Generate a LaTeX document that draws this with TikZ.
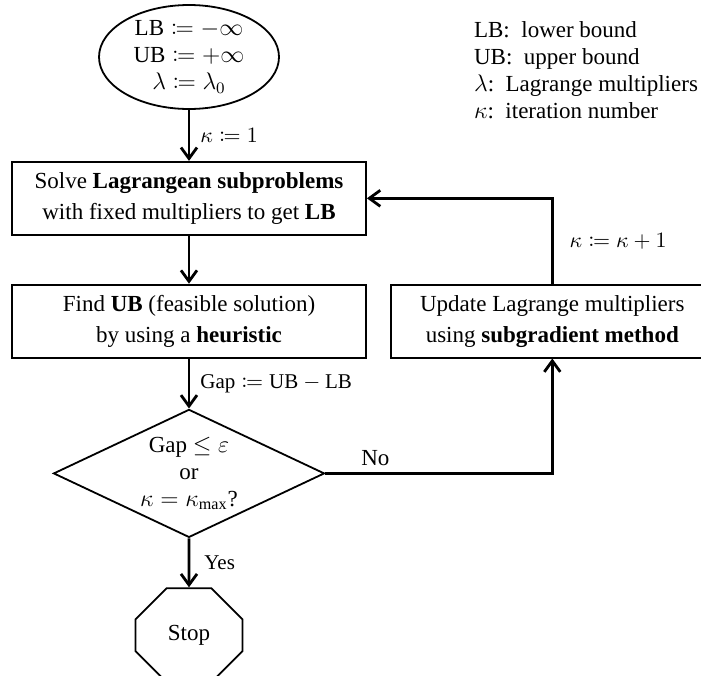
\documentclass[tikz,border=0pt]{standalone}
\usepackage{mathtools}
\usepackage{fontspec}
\setmainfont{Liberation Serif}
\usetikzlibrary{shapes, arrows.meta, positioning}

\begin{document}
\begin{tikzpicture}[->,>={Straight Barb[length=5.5pt,width=8pt]},x=1pt,y=1pt,
      line width=1.4pt,font=\fontsize{11.5}{15.5}\selectfont,
      main node/.style={rectangle,draw,line width=0.9pt,minimum width=177pt,minimum height=36.5pt,align=center},
      start node/.style={ellipse,draw,line width=0.9pt,minimum width=90pt,minimum height=52pt,inner sep=0pt,align=center,font=\fontsize{11.5}{13.5}\selectfont},
      test node/.style={diamond,draw,line width=0.9pt,aspect=2.1,minimum width=135.5pt,minimum height=64pt,inner sep=-3pt,align=center,font=\fontsize{11.5}{13.5}\selectfont},
      stop node/.style={chamfered rectangle,draw,line width=0.9pt,minimum width=53.5pt,minimum height=47pt,
        chamfered rectangle xsep=14.25pt,chamfered rectangle ysep=13.5pt,inner sep=0pt},
      other node/.style={align=left,font=\fontsize{11.5}{13.5}\selectfont}]

    \useasboundingbox (0,0) rectangle (350.5,-337.5);
    \clip (0,0) rectangle (350.5,-337.5);

        \node[start node] (1) at (94.5,-28.5) {$\text{LB} \coloneqq -\infty$\\ $\text{UB} \coloneqq +\infty$\\ $\lambda \coloneqq \lambda_0$};
        \node[main node] (2) [below=25.5pt of 1] {Solve \textbf{Lagrangean subproblems}\\ with fixed multipliers to get \textbf{LB}};
        \node[main node] (3) [below=24pt of 2] {Find \textbf{UB} (feasible solution)\\ by using a \textbf{heuristic}};
        \node[test node] (4) [below=25pt of 3] {Gap $\leq \varepsilon$\\ or\\ $\kappa = \kappa_{\max}$?};
        \node[stop node] (5) [below=24.5pt of 4] {Stop};
        \node[main node, minimum width=161.5pt] (6) [right=11.5pt of 3, anchor=west] {Update Lagrange multipliers\\ using \textbf{subgradient method}};

        \node[other node, anchor=west] (7) at (233,-35.25) {LB:\ \ lower bound\\ UB:\ \ upper bound\\ $\lambda$:\ \ Lagrange multipliers\\ $\kappa$:\ \ iteration number};

        \path[every node/.style={font=\fontsize{10.5}{12}\selectfont, inner sep=5pt}]
            (1) edge node [right] {$\kappa \coloneqq 1$} (2)
            (2) edge (3)
            (3) edge node [right] {$\text{Gap} \coloneqq \text{UB} - \text{LB}$} (4)
            (4) edge node [right, inner sep=7pt] {Yes} (5)
        ;
        \draw (4) -| node [above, pos=0.11, font=\fontsize{11.5}{12}\selectfont] {No} (6);
        \draw (6) |- node [right, pos=0.25, inner sep=8pt, font=\fontsize{10.5}{12}\selectfont] {$\kappa \coloneqq \kappa + 1$} (2);
    \end{tikzpicture}
\end{document}
